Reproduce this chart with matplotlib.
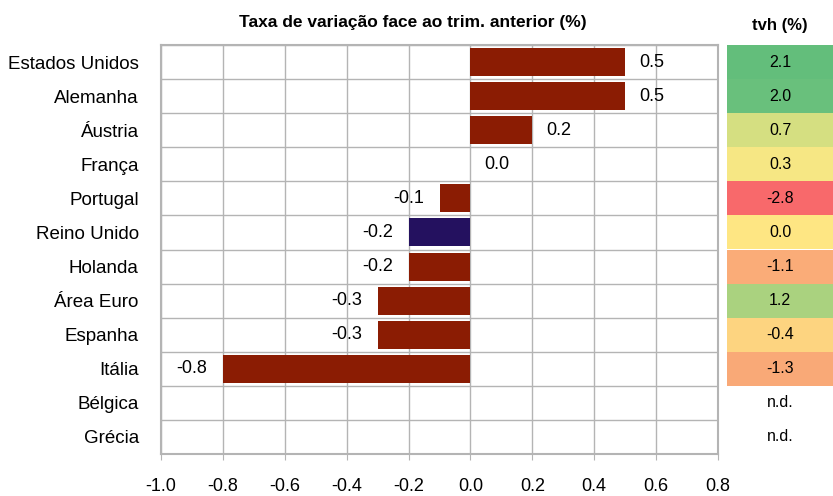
import matplotlib.pyplot as plt
import numpy as np

plt.rcParams['font.family'] = ['Liberation Sans', 'DejaVu Sans']

countries = ["Estados Unidos", "Alemanha", "Áustria", "França", "Portugal",
             "Reino Unido", "Holanda", "Área Euro", "Espanha", "Itália",
             "Bélgica", "Grécia"]
qoq = [0.5, 0.5, 0.2, 0.0, -0.1, -0.2, -0.2, -0.3, -0.3, -0.8, None, None]
yoy = [2.1, 2.0, 0.7, 0.3, -2.8, 0.0, -1.1, 1.2, -0.4, -1.3, None, None]
yoy_colors = ["#63BE7B", "#69C07C", "#D5DF81", "#F6E784", "#F8696B", "#FEE683",
              "#FAAC78", "#AAD27F", "#FDD480", "#F9A977"]

RED = "#8B1C03"
NAVY = "#24115F"
GRID = "#B4B4B4"

fig = plt.figure(figsize=(8.33, 4.96), dpi=100)
ax = fig.add_axes([161 / 833, 1 - 454 / 496, (718 - 161) / 833, 409 / 496])

y = np.arange(len(countries))
for i, v in enumerate(qoq):
    if v is None:
        continue
    col = NAVY if countries[i] == "Reino Unido" else RED
    ax.barh(i, v, height=0.82, color=col, zorder=3)
    lab = "%.1f" % v
    if v < 0:
        ax.annotate(lab, (v, i), xytext=(-11, 0), textcoords="offset points",
                    ha="right", va="center", fontsize=13)
    else:
        ax.annotate(lab, (v, i), xytext=(10, 0), textcoords="offset points",
                    ha="left", va="center", fontsize=13)

ticks = np.arange(-1.0, 0.81, 0.2)
ax.set_xlim(-1.0, 0.8)
ax.set_ylim(len(countries) - 0.5, -0.5)
ax.set_xticks(ticks)
ax.set_xticklabels(["%.1f" % t if abs(t) > 1e-9 else "0.0" for t in ticks],
                   fontsize=13)
ax.set_yticks(y)
ax.set_yticklabels(countries, fontsize=13.5)
ax.set_yticks(np.arange(-0.5, len(countries), 1), minor=True)
ax.grid(axis="x", which="major", color=GRID, lw=1, zorder=0)
ax.grid(axis="y", which="minor", color=GRID, lw=1, zorder=0)
ax.tick_params(axis="y", which="both", length=0, pad=16)
ax.tick_params(axis="x", length=4, color=GRID, pad=13)
for s in ax.spines.values():
    s.set_color(GRID)
    s.set_linewidth(1.5)
fig.text(413 / 833, 1 - 22 / 496, "Taxa de variação face ao trim. anterior (%)",
         fontsize=12.5, fontweight="bold", ha="center", va="center")

# tvh table
tx = fig.add_axes([727 / 833, 1 - 454 / 496, 106 / 833, 409 / 496])
tx.set_xlim(0, 1)
tx.set_ylim(len(countries) - 0.5, -0.5)
for i, v in enumerate(yoy):
    if v is None:
        tx.text(0.5, i, "n.d.", ha="center", va="center", fontsize=11.5)
    else:
        tx.barh(i, 1, left=0, height=1, color=yoy_colors[i])
        tx.text(0.5, i, "%.1f" % v, ha="center", va="center", fontsize=11.5)
tx.axis("off")
tx.set_title("tvh (%)", fontsize=12, fontweight="bold", pad=11)

fig.savefig("out.png", dpi=100)
